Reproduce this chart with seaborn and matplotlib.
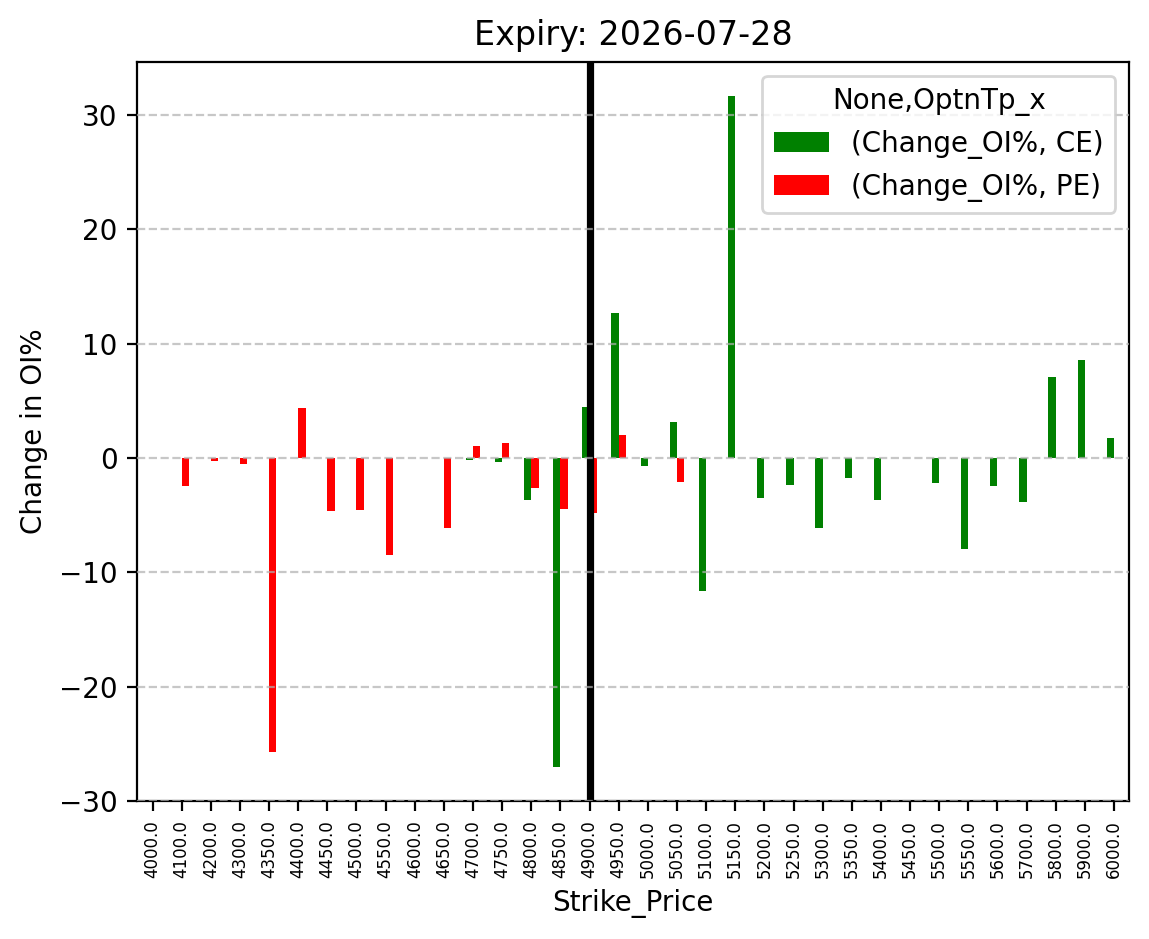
import numpy as np
import pandas as pd
import matplotlib
matplotlib.use('Agg')
import matplotlib.pyplot as plt
import seaborn as sns

nan = np.nan

strikes = [4000, 4100, 4200, 4300, 4350, 4400, 4450, 4500, 4550, 4600,
           4650, 4700, 4750, 4800, 4850, 4900, 4950, 5000, 5050, 5100,
           5150, 5200, 5250, 5300, 5350, 5400, 5450, 5500, 5550, 5600,
           5700, 5800, 5900, 6000]

ce_change = [nan, nan, nan, nan, nan, nan, nan, nan, nan, nan,
             nan, -0.15, -0.35, -3.7, -27.0, 4.5, 12.7, -0.7, 3.15, -11.65,
             31.7, -3.5, -2.35, -6.1, -1.75, -3.65, nan, -2.2, -7.95, -2.45,
             -3.85, 7.1, 8.6, 1.75]

pe_change = [nan, -2.45, -0.3, -0.5, -25.7, 4.4, -4.65, -4.55, -8.45, nan,
             -6.1, 1.05, 1.3, -2.6, -4.45, -4.8, 2.05, nan, -2.1, nan,
             nan, nan, nan, nan, nan, nan, nan, nan, nan, nan,
             nan, nan, nan, nan]

series_labels = ['(Change_OI%, CE)', '(Change_OI%, PE)']
expiry = '2026-07-28'
spot_strike = 4900

labels = [f'{float(s):.1f}' for s in strikes]
df = pd.DataFrame({
    'Strike_Price': labels * 2,
    'value': ce_change + pe_change,
    'series': [series_labels[0]] * len(strikes) + [series_labels[1]] * len(strikes),
})

fig, ax = plt.subplots(figsize=(5.745, 4.695), dpi=200)
fig.subplots_adjust(left=0.1192, right=0.9826, top=0.934, bottom=0.147)

sns.barplot(data=df, x='Strike_Price', y='value', hue='series',
            order=labels, hue_order=series_labels,
            palette=['green', 'red'], saturation=1, width=0.5,
            linewidth=0, errorbar=None, ax=ax)

ax.axvline(x=labels.index(f'{float(spot_strike):.1f}'), color='black', linewidth=2.6)

ax.set_title(f'Expiry: {expiry}', fontsize=12)
ax.set_xlabel('Strike_Price', fontsize=10)
ax.set_ylabel('Change in OI%', fontsize=10)
ax.tick_params(axis='x', labelsize=6, labelrotation=90)
ax.set_xlim(-0.535, len(strikes) - 1 + 0.515)
ax.set_ylim(-29.95, 34.65)
ax.set_yticks([-30, -20, -10, 0, 10, 20, 30])
ax.grid(axis='y', linestyle='--', alpha=0.7)
ax.set_axisbelow(False)

ax.legend(title='None,OptnTp_x', loc='upper right')

plt.savefig('out.png', dpi=200)
plt.close()
